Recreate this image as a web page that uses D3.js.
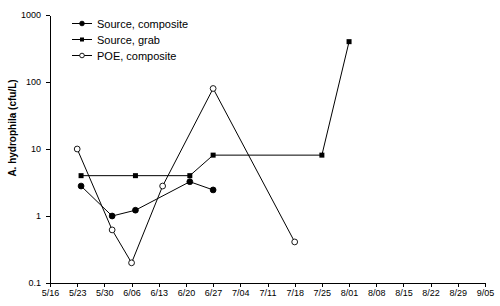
<!DOCTYPE html>
<html lang="en">
<head>
  <meta charset="UTF-8"/>
  <title>A. hydrophila</title>
  <script src="https://d3js.org/d3.v7.min.js"></script>
  <style>
    body { margin: 0; background: #fff; }
    svg { display: block; font-family: Arial, "Liberation Sans", sans-serif; }
    .axis path, .axis line { stroke: #000; shape-rendering: crispEdges; }
    .axis text { font-size: 9px; fill: #000; }
    .series { fill: none; stroke: #000; stroke-width: 1; }
    .legend text { font-size: 11px; }
  </style>
</head>
<body>
  <svg width="500" height="306"></svg>

  <script>
  const parse = d3.timeParse('%m/%d/%Y');

  // sampling dates and values (cfu/L)
  const compDates = ['5/24', '6/01', '6/07', '6/21', '6/27'];
  const compValues = [2.8, 1.0, 1.22, 3.25, 2.45];

  const grabDates = ['5/24', '6/07', '6/21', '6/27', '7/25', '8/01'];
  const grabValues = [4, 4, 4, 8.1, 8.1, 400];

  const poeDates = ['5/23', '6/01', '6/06', '6/14', '6/27', '7/18'];
  const poeValues = [10, 0.62, 0.2, 2.8, 80, 0.41];

  const yTicks = [0.1, 1, 10, 100, 1000];
  const seriesNames = ['Source, composite', 'Source, grab', 'POE, composite'];

  const year = 2003;
  const toDate = (s) => parse(s + '/' + year);

  const svg = d3.select('svg');

  const plotLeft = 50, plotRight = 485, plotTop = 15, plotBottom = 283;

  const xScale = d3.scaleTime()
    .domain([toDate('5/16'), toDate('9/05')])
    .range([plotLeft, plotRight]);

  const yScale = d3.scaleLog()
    .domain([0.1, 1000])
    .range([plotBottom, plotTop]);

  const xTicks = d3.timeDay.range(toDate('5/16'), d3.timeDay.offset(toDate('9/05'), 1), 7);

  svg.append('g')
    .attr('class', 'axis')
    .attr('transform', `translate(0, ${plotBottom})`)
    .call(d3.axisBottom(xScale)
      .tickValues(xTicks)
      .tickFormat(d3.timeFormat('%-m/%d'))
      .tickSize(4)
      .tickSizeOuter(0)
      .tickPadding(3));

  svg.append('g')
    .attr('class', 'axis')
    .attr('transform', `translate(${plotLeft}, 0)`)
    .call(d3.axisLeft(yScale)
      .tickValues(yTicks)
      .tickFormat((d) => String(d))
      .tickSize(4)
      .tickSizeOuter(0)
      .tickPadding(5));

  const makeData = (dates, values) => dates.map((d, i) => ({ date: toDate(d), value: values[i] }));

  const series = [
    { name: seriesNames[0], data: makeData(compDates, compValues), marker: 'circle', fill: '#000' },
    { name: seriesNames[1], data: makeData(grabDates, grabValues), marker: 'square', fill: '#000' },
    { name: seriesNames[2], data: makeData(poeDates, poeValues), marker: 'circle', fill: '#fff' }
  ];

  const line = d3.line()
    .x((d) => xScale(d.date))
    .y((d) => yScale(d.value));

  const drawMarker = (g, s, x, y, k) => {
    if (s.marker === 'circle') {
      g.append('circle')
        .attr('cx', x).attr('cy', y).attr('r', 2.9 * k)
        .attr('fill', s.fill).attr('stroke', '#000').attr('stroke-width', 0.9);
    } else {
      g.append('rect')
        .attr('x', x - 2.5 * k).attr('y', y - 2.5 * k)
        .attr('width', 5 * k).attr('height', 5 * k)
        .attr('fill', s.fill);
    }
  };

  series.forEach((s) => {
    svg.append('path')
      .datum(s.data)
      .attr('class', 'series')
      .attr('d', line);
    const g = svg.append('g');
    s.data.forEach((d) => drawMarker(g, s, xScale(d.date), yScale(d.value), 1));
  });

  // legend
  const legend = svg.append('g').attr('class', 'legend');
  series.forEach((s, i) => {
    const y = 23.5 + i * 16;
    legend.append('line')
      .attr('x1', 72).attr('x2', 92)
      .attr('y1', y).attr('y2', y)
      .attr('stroke', '#000');
    drawMarker(legend, s, 82, y, 0.8);
    legend.append('text')
      .attr('x', 97)
      .attr('y', y + 4)
      .text(s.name);
  });

  svg.append('text')
    .attr('transform', 'rotate(-90)')
    .attr('x', -128)
    .attr('y', 16)
    .attr('text-anchor', 'middle')
    .style('font-size', '10px')
    .style('font-weight', 'bold')
    .text('A. hydrophila (cfu/L)');
  </script>
</body>
</html>
